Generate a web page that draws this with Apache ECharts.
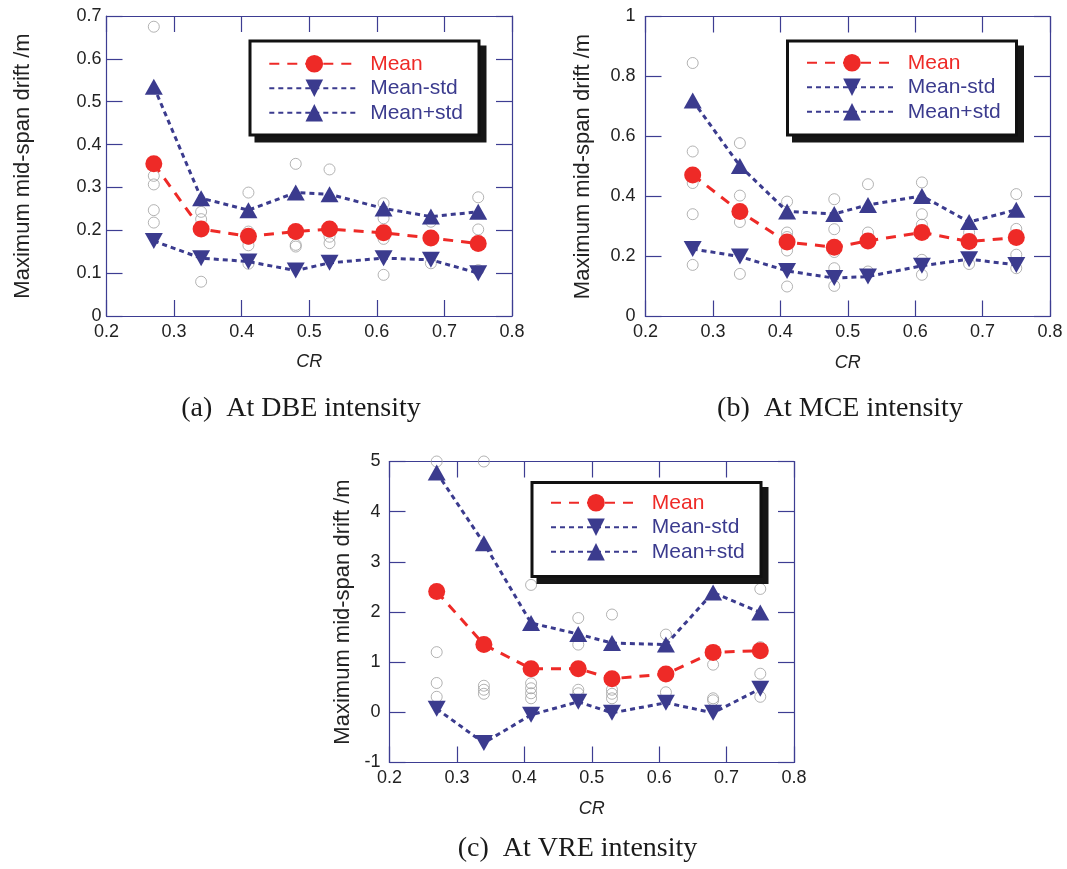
<!DOCTYPE html>
<html><head><meta charset="utf-8">
<script src="https://cdn.jsdelivr.net/npm/echarts@6/dist/echarts.min.js"></script>
<style>html,body{margin:0;padding:0;background:#fff}#c{width:1067px;height:869px}</style>
</head><body><div id="c"></div>
<script>
// ---------- DATA ----------
const cr = [0.27, 0.34, 0.41, 0.48, 0.53, 0.61, 0.68, 0.75];

const dbeMean  = [0.355, 0.203, 0.186, 0.197, 0.203, 0.194, 0.182, 0.169];
const dbeMinus = [0.175, 0.135, 0.127, 0.106, 0.124, 0.135, 0.131, 0.100];
const dbePlus  = [0.535, 0.275, 0.247, 0.288, 0.284, 0.251, 0.232, 0.243];
const dbeRecords = [
  [0.675, 0.355, 0.327, 0.307, 0.247, 0.218],
  [0.243, 0.226, 0.202, 0.080],
  [0.288, 0.197, 0.180, 0.165, 0.122],
  [0.355, 0.197, 0.166, 0.162],
  [0.342, 0.203, 0.185, 0.170],
  [0.263, 0.228, 0.180, 0.096],
  [0.220, 0.123],
  [0.277, 0.202, 0.107]
];

const mceMean  = [0.472, 0.350, 0.248, 0.231, 0.252, 0.280, 0.250, 0.263];
const mceMinus = [0.225, 0.200, 0.152, 0.128, 0.133, 0.169, 0.191, 0.172];
const mcePlus  = [0.720, 0.502, 0.350, 0.342, 0.372, 0.402, 0.315, 0.356];
const mceRecords = [
  [0.845, 0.550, 0.445, 0.341, 0.172],
  [0.578, 0.403, 0.315, 0.142],
  [0.383, 0.280, 0.265, 0.220, 0.100],
  [0.391, 0.291, 0.215, 0.161, 0.102],
  [0.441, 0.280, 0.150],
  [0.447, 0.341, 0.306, 0.189, 0.139],
  [0.280, 0.175],
  [0.408, 0.292, 0.206, 0.161]
];

const vreMean  = [2.41, 1.35, 0.87, 0.87, 0.67, 0.765, 1.195, 1.23];
const vreMinus = [0.07, -0.61, -0.05, 0.21, -0.01, 0.19, -0.01, 0.47];
const vrePlus  = [4.78, 3.37, 1.78, 1.56, 1.38, 1.35, 2.39, 1.99];
const vreRecords = [
  [5.0, 2.41, 1.20, 0.585, 0.31],
  [5.0, 0.53, 0.45, 0.37],
  [2.54, 0.58, 0.48, 0.38, 0.28],
  [1.88, 1.35, 0.45, 0.38],
  [1.95, 0.45, 0.37, 0.28],
  [1.55, 0.40],
  [0.95, 0.28, 0.24],
  [2.46, 1.30, 0.77, 0.31]
];

const xRange = [0.2, 0.8, 0.1];
const yRangeA = [0, 0.7, 0.1];
const yRangeB = [0, 1, 0.2];
const yRangeC = [-1, 5, 1];
const captions = ['(a)  At DBE intensity', '(b)  At MCE intensity', '(c)  At VRE intensity'];
const yName = 'Maximum mid-span drift /m';
const xName = 'CR';

// ---------- STYLE / LAYOUT ----------
const RED = '#ee2a27', NAVY = '#3b3b8e', AXIS = '#3d3d92', TXT = '#222';
const SANS = '"Liberation Sans", Arial, sans-serif';
const SERIF = '"Liberation Serif", "Times New Roman", serif';

const panels = [
  {grid:{left:106.5, top:16, width:405.5, height:300}, yr:yRangeA, mean:dbeMean, minus:dbeMinus, plus:dbePlus, rec:dbeRecords,
   box:[248.5, 39.5, 232, 97], leg:[268.3, 53.3], yGap:73, yMargin:5, cap:[301, 409]},
  {grid:{left:645.5, top:16.5, width:404.5, height:300}, yr:yRangeB, mean:mceMean, minus:mceMinus, plus:mcePlus, rec:mceRecords,
   box:[786, 39.5, 232, 97], leg:[806, 52.3], yGap:52, yMargin:10, cap:[840, 409]},
  {grid:{left:389.5, top:461.5, width:404.5, height:301}, yr:yRangeC, mean:vreMean, minus:vreMinus, plus:vrePlus, rec:vreRecords,
   box:[530.5, 481, 232, 97], leg:[550, 492.3], yGap:36, yMargin:9, cap:[577.5, 849]}
];

const grid = [], xAxis = [], yAxis = [], series = [], legend = [], graphic = [];
const axLine = {show:true, onZero:false, lineStyle:{color:AXIS, width:1.2}};
const axTick = {show:true, inside:true, length:16, lineStyle:{color:AXIS, width:1.2}};

panels.forEach((p, i) => {
  grid.push(Object.assign({containLabel:false}, p.grid));
  xAxis.push({type:'value', gridIndex:i, position:'bottom', min:xRange[0], max:xRange[1], interval:xRange[2],
    axisLine:axLine, axisTick:axTick, splitLine:{show:false},
    axisLabel:{color:TXT, fontSize:18, fontFamily:SANS, margin:7},
    name:xName, nameLocation:'middle', nameGap:37,
    nameTextStyle:{color:TXT, fontSize:18, fontFamily:SANS, fontStyle:'italic'}});
  xAxis.push({type:'value', gridIndex:i, position:'top', min:xRange[0], max:xRange[1], interval:xRange[2],
    axisLine:axLine, axisTick:axTick, axisLabel:{show:false}, splitLine:{show:false}});
  yAxis.push({type:'value', gridIndex:i, position:'left', min:p.yr[0], max:p.yr[1], interval:p.yr[2],
    axisLine:axLine, axisTick:axTick, splitLine:{show:false},
    axisLabel:{color:TXT, fontSize:18, fontFamily:SANS, margin:p.yMargin},
    name:yName, nameLocation:'middle', nameGap:p.yGap, nameRotate:90,
    nameTextStyle:{color:TXT, fontSize:22, fontFamily:SANS}});
  yAxis.push({type:'value', gridIndex:i, position:'right', min:p.yr[0], max:p.yr[1], interval:p.yr[2],
    axisLine:axLine, axisTick:axTick, axisLabel:{show:false}, splitLine:{show:false}});

  const recPts = [];
  p.rec.forEach((vals, j) => vals.forEach(v => recPts.push([cr[j], v])));
  series.push({type:'scatter', name:'Records', xAxisIndex:2*i, yAxisIndex:2*i, data:recPts,
    symbol:'circle', symbolSize:11, z:1,
    itemStyle:{color:'rgba(255,255,255,0)', borderColor:'#a0a0a0', borderWidth:1}});
  series.push({type:'line', name:'Mean', xAxisIndex:2*i, yAxisIndex:2*i,
    data:cr.map((x, j) => [x, p.mean[j]]), symbol:'circle', symbolSize:17, z:4,
    itemStyle:{color:RED}, lineStyle:{color:RED, width:3, type:[10, 8]}});
  series.push({type:'line', name:'Mean-std', xAxisIndex:2*i, yAxisIndex:2*i,
    data:cr.map((x, j) => [x, p.minus[j]]), symbol:'triangle', symbolRotate:180, symbolSize:[18, 16], z:3,
    itemStyle:{color:NAVY}, lineStyle:{color:NAVY, width:3, type:[5, 4]}});
  series.push({type:'line', name:'Mean+std', xAxisIndex:2*i, yAxisIndex:2*i,
    data:cr.map((x, j) => [x, p.plus[j]]), symbol:'triangle', symbolSize:[18, 16], z:3,
    itemStyle:{color:NAVY}, lineStyle:{color:NAVY, width:3, type:[5, 4]}});

  legend.push({left:p.leg[0], top:p.leg[1], orient:'vertical', align:'left', z:20,
    data:[{name:'Mean', textStyle:{color:RED}}, {name:'Mean-std', textStyle:{color:NAVY}}, {name:'Mean+std', textStyle:{color:NAVY}}],
    formatter:' {name}',
    itemWidth:90, itemHeight:22, itemGap:3.5, selectedMode:false,
    textStyle:{fontSize:21, fontFamily:SANS},
    padding:0, backgroundColor:'transparent', borderWidth:0});

  const b = p.box;
  graphic.push({type:'rect', z:15, silent:true,
    shape:{x:b[0] + 6, y:b[1] + 6, width:b[2], height:b[3]}, style:{fill:'#161616'}});
  graphic.push({type:'rect', z:16, silent:true,
    shape:{x:b[0] + 1.5, y:b[1] + 1.5, width:b[2] - 3, height:b[3] - 3}, style:{fill:'#fff', stroke:'#111', lineWidth:3}});
  graphic.push({type:'text', x:p.cap[0], y:p.cap[1], z:10,
    style:{text:captions[i], fontSize:28, fontFamily:SERIF, fill:'#1a1a1a', align:'center', verticalAlign:'middle'}});
});

const chart = echarts.init(document.getElementById('c'), null, {renderer:'canvas'});
chart.setOption({animation:false, backgroundColor:'#fff', grid, xAxis, yAxis, series, legend, graphic});
</script>
</body></html>
